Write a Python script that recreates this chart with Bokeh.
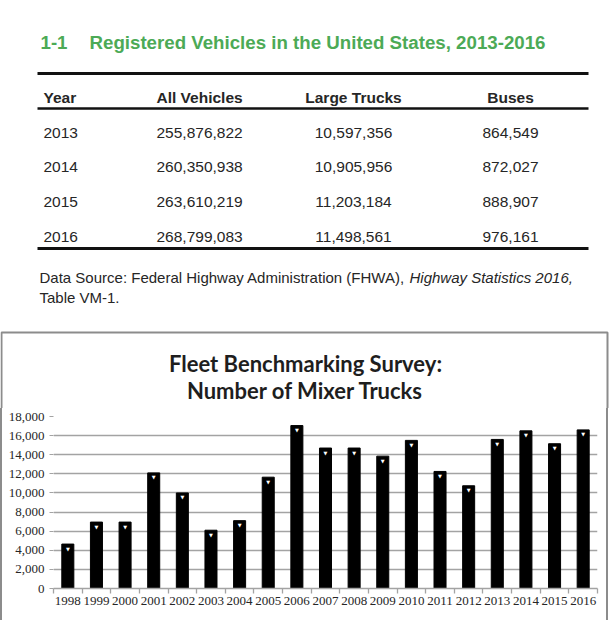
from bokeh.plotting import figure
from bokeh.models import Range1d, FixedTicker, NumeralTickFormatter, ColumnDataSource
from bokeh.core.properties import value
from bokeh.embed import file_html
from bokeh.resources import INLINE

# ---------------- data ----------------
table_number = "1-1"
table_title = "Registered Vehicles in the United States, 2013-2016"
col_headers = ["Year", "All Vehicles", "Large Trucks", "Buses"]
years = ["2013", "2014", "2015", "2016"]
all_vehicles = [255876822, 260350938, 263610219, 268799083]
large_trucks = [10597356, 10905956, 11203184, 11498561]
buses = [864549, 872027, 888907, 976161]
source_regular = "Data Source: Federal Highway Administration (FHWA),"
source_italic = "Highway Statistics 2016,"
source_line2 = "Table VM-1."

chart_title = ["Fleet Benchmarking Survey:", "Number of Mixer Trucks"]
mixer_years = ["1998", "1999", "2000", "2001", "2002", "2003", "2004", "2005",
               "2006", "2007", "2008", "2009", "2010", "2011", "2012", "2013",
               "2014", "2015", "2016"]
mixer_trucks = [4650, 6950, 6950, 12100, 10000, 6100, 7100, 11650, 17050, 14700,
                14700, 13850, 15500, 12250, 10750, 15600, 16500, 15150, 16600]
y_ticks = [0, 2000, 4000, 6000, 8000, 10000, 12000, 14000, 16000, 18000]

# ---------------- styles ----------------
SANS = "Liberation Sans"
SERIF = "Liberation Serif"
GREEN = "#4caa56"
TXT = "#262626"
GRID = "#a3a3a3"
BOX = "#8c8c8c"

# ---------------- table + chart title (top figure, page pixel coords) ----------------
TOP_H = 408
top = figure(width=610, height=TOP_H, x_range=Range1d(0, 610), y_range=Range1d(TOP_H, 0),
             output_backend="svg", toolbar_location=None, min_border=0,
             x_axis_location=None, y_axis_location=None)
top.grid.visible = False
top.outline_line_color = None

top.text(x=[40], y=[42], text=[table_number], text_font=value(SANS), text_font_style="bold",
         text_font_size="18.7px", text_color=GREEN, text_baseline="alphabetic")
top.text(x=[89], y=[42], text=[table_title], text_font=value(SANS), text_font_style="bold",
         text_font_size="18.7px", text_color=GREEN, text_baseline="alphabetic")

top.segment(x0=[37, 37, 37], x1=[588, 588, 588], y0=[73, 108, 248], y1=[73, 108, 248],
            line_width=[3, 2.5, 3], line_color="#111111")

col_x = [43, 156, 353, 510]
col_align = ["left", "left", "center", "center"]
header_y = 97
row_y0 = 132
row_pitch = 34.8

columns = [years,
           [f"{v:,}" for v in all_vehicles],
           [f"{v:,}" for v in large_trucks],
           [f"{v:,}" for v in buses]]

for cx, al, hd, vals in zip(col_x, col_align, col_headers, columns):
    top.text(x=[cx], y=[header_y], text=[hd], text_font=value(SANS), text_font_style="bold",
             text_font_size="15.5px", text_color=TXT, text_align=al, text_baseline="alphabetic")
    top.text(x=[cx] * len(vals), y=[row_y0 + i * row_pitch for i in range(len(vals))],
             text=vals, text_font=value(SANS), text_font_size="15.5px", text_color=TXT,
             text_align=al, text_baseline="alphabetic")

top.text(x=[39], y=[277], text=[source_regular], text_font=value(SANS), text_font_size="15px",
         text_color=TXT, text_baseline="alphabetic")
top.text(x=[409], y=[277], text=[source_italic], text_font=value(SANS), text_font_size="15px",
         text_font_style="italic", text_color=TXT, text_baseline="alphabetic")
top.text(x=[39], y=[297], text=[source_line2], text_font=value(SANS), text_font_size="15px",
         text_color=TXT, text_baseline="alphabetic")

# chart frame (box) upper part
top.multi_line(xs=[[1, 1, 607, 607]], ys=[[TOP_H, 332, 332, TOP_H]], line_color=BOX, line_width=2)

top.text(x=[305, 305], y=[363, 390], text=chart_title, text_font=value("Lato"),
         text_font_style="bold", text_font_size="22px", text_color="#1e1e1e",
         text_align="center", text_baseline="alphabetic")

# ---------------- bar chart (bottom figure) ----------------
n = len(mixer_trucks)
src = ColumnDataSource(dict(x=[i + 0.5 for i in range(n)], top=mixer_trucks,
                            notch=["\u25BC"] * n))

p = figure(width=608, height=620 - TOP_H, x_range=Range1d(0, n), y_range=Range1d(0, 18000),
           output_backend="svg", toolbar_location=None,
           min_border_left=51, min_border_right=13, min_border_top=416 - TOP_H,
           min_border_bottom=32)
p.styles = {"border-left": f"2px solid {BOX}", "border-right": f"2px solid {BOX}"}
p.outline_line_color = None
p.xgrid.visible = False
p.ygrid.grid_line_color = GRID
p.ygrid.grid_line_width = 1.4
p.yaxis.ticker = FixedTicker(ticks=y_ticks)
p.ygrid.ticker = FixedTicker(ticks=y_ticks)

p.vbar(x="x", top="top", width=0.42, source=src, fill_color="black", line_color="black")
p.text(x="x", y="top", text="notch", source=src, text_color="white", text_font_size="5px",
       text_font=value("DejaVu Sans"), text_align="center", text_baseline="top", y_offset=1.5)

xa = p.xaxis[0]
xa.ticker = FixedTicker(ticks=[i + 0.5 for i in range(n)], minor_ticks=list(range(n + 1)))
xa.major_label_overrides = {i + 0.5: lab for i, lab in enumerate(mixer_years)}
xa.major_tick_out = 0
xa.major_tick_in = 0
xa.minor_tick_out = 5
xa.minor_tick_in = 0
xa.minor_tick_line_color = GRID
xa.minor_tick_line_width = 1.3
xa.axis_line_color = GRID
xa.axis_line_width = 1.4
xa.major_label_standoff = 3
xa.major_label_text_font = SERIF
xa.major_label_text_font_size = "13px"
xa.major_label_text_color = TXT

ya = p.yaxis[0]
ya.formatter = NumeralTickFormatter(format="0,0")
ya.axis_line_color = None
ya.major_tick_out = 4
ya.major_tick_in = 0
ya.major_tick_line_color = GRID
ya.minor_tick_line_color = None
ya.major_label_standoff = 5
ya.major_label_text_font = SERIF
ya.major_label_text_font_size = "13px"
ya.major_label_text_color = TXT

open("out.html", "w").write(file_html([top, p], INLINE))
